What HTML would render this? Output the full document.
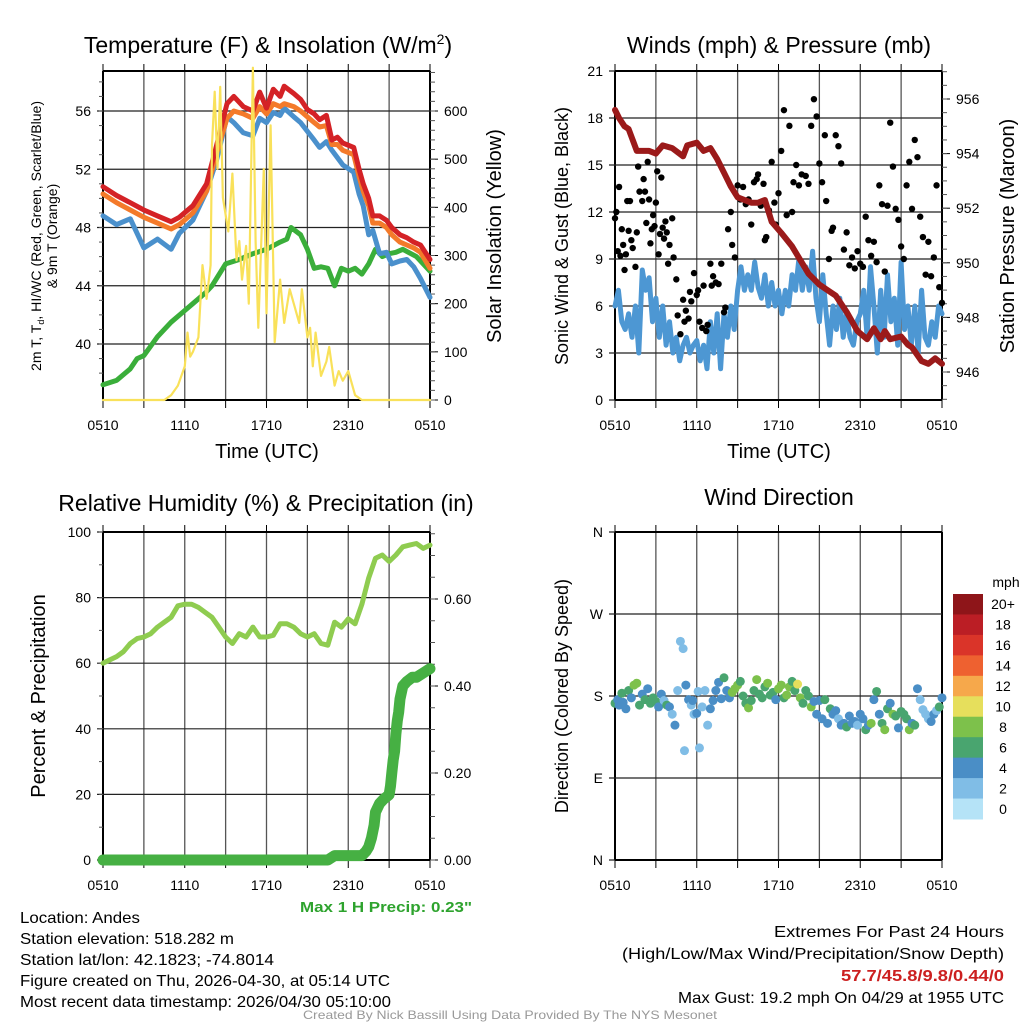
<!DOCTYPE html>
<html><head><meta charset="utf-8"><style>
body{margin:0;background:#fff;}
svg{display:block;font-family:"Liberation Sans",sans-serif;}
.nar{font-family:"Liberation Sans Narrow","Liberation Sans",sans-serif;}
</style></head><body>
<svg id="s" width="1024" height="1024" viewBox="0 0 1024 1024" xmlns="http://www.w3.org/2000/svg">
<rect width="1024" height="1024" fill="#fff"/>
<g id="g1"></g>
<g id="g2"></g>
<g id="g3"></g>
<g id="g4"></g>
<text x="268" y="53" font-size="23" text-anchor="middle">Temperature (F) &amp; Insolation (W/m<tspan dy="-9" font-size="14">2</tspan><tspan dy="9">)</tspan></text>
<text x="779" y="53" font-size="23" text-anchor="middle">Winds (mph) &amp; Pressure (mb)</text>
<text x="266" y="511" font-size="23" text-anchor="middle">Relative Humidity (%) &amp; Precipitation (in)</text>
<text x="779" y="505" font-size="23" text-anchor="middle">Wind Direction</text>
<text x="472" y="912" font-size="15" font-weight="bold" fill="#2ea32e" text-anchor="end" textLength="172" lengthAdjust="spacingAndGlyphs">Max 1 H Precip: 0.23"</text>
<g font-size="16">
<text x="20" y="923" textLength="120" lengthAdjust="spacingAndGlyphs">Location: Andes</text>
<text x="20" y="944" textLength="214" lengthAdjust="spacingAndGlyphs">Station elevation: 518.282 m</text>
<text x="20" y="965" textLength="254" lengthAdjust="spacingAndGlyphs">Station lat/lon: 42.1823; -74.8014</text>
<text x="20" y="986" textLength="370" lengthAdjust="spacingAndGlyphs">Figure created on Thu, 2026-04-30, at 05:14 UTC</text>
<text x="20" y="1007" textLength="371" lengthAdjust="spacingAndGlyphs">Most recent data timestamp: 2026/04/30 05:10:00</text>
</g>
<g font-size="16" text-anchor="end">
<text x="1004" y="937" textLength="230" lengthAdjust="spacingAndGlyphs">Extremes For Past 24 Hours</text>
<text x="1004" y="959" textLength="382" lengthAdjust="spacingAndGlyphs">(High/Low/Max Wind/Precipitation/Snow Depth)</text>
<text x="1004" y="981" textLength="163" lengthAdjust="spacingAndGlyphs" font-weight="bold" fill="#cc2020">57.7/45.8/9.8/0.44/0</text>
<text x="1004" y="1003" textLength="326" lengthAdjust="spacingAndGlyphs">Max Gust: 19.2 mph On 04/29 at 1955 UTC</text>
</g>
<text x="510" y="1019" font-size="12" fill="#999" text-anchor="middle" textLength="414" lengthAdjust="spacingAndGlyphs">Created By Nick Bassill Using Data Provided By The NYS Mesonet</text>
</svg>
<script>
// ---------- DATA ----------
const xTickLabels = ["0510","1110","1710","2310","0510"];
const tempT = [0,1,2,3,4,5,5.6,6.6,7.6,8.3,9.1,9.6,10.3,11,11.5,12,12.5,13,13.3,14,14.5,15,15.5,15.9,16.4,16.8,17.2,17.6,18.4,18.8,19.1,19.5,19.8,20.3,20.8,21.2,21.8,22.3,22.8,23.3,24];
const redT = [50.8,50.2,49.7,49.2,48.8,48.4,48.7,49.5,51,53.5,56.5,57,56.3,56,57.3,56.2,57.5,57,57.7,57.2,56.8,56.1,55.8,55.4,55.7,54,54.2,53.8,53.5,52,51,50,48.8,48.8,48.5,48,47.5,47.3,47,46.8,45.8];
const orangeT = [50.3,49.7,49.2,48.7,48.3,47.9,48.2,49,50.5,53,55.5,56,55.8,55.5,56.3,55.8,56.5,56.3,56.5,56.3,56,55.6,55.2,54.9,55,53.7,53.7,53.3,53,51.5,50.5,49.5,48.3,48.3,48,47.5,47,46.8,46.6,46.3,45.2];
const blueT = [48.8,48.2,48.6,46.6,47.2,46.5,47.6,48.5,50.5,52.5,55.6,55.2,54.5,54.3,55.5,55.2,55.9,55.7,56.2,55.6,55.2,54.6,54,53.5,53.9,53.3,52.8,52.3,51.8,50.3,49.5,47.5,47.8,46.2,46.3,45.5,45.7,45.8,45.3,44.5,43.2];
const dewT = [0,1,2,2.5,3,4,5,6,6.5,7.5,8,9,10,10.5,11,12,13,13.5,13.8,14.5,15,15.5,16,16.5,17,17.5,18,18.5,19,19.5,20,20.5,21,21.5,22,23,24];
const greenT = [37.2,37.5,38.3,39,39.2,40.5,41.5,42.3,42.7,43.5,44,45.5,45.8,46,46.2,46.5,47,47.2,48,47.5,46.5,45.2,45.3,45.2,44,45.2,45,45.2,44.8,45.5,46.5,46,46.2,46.3,46.5,46,45];
const solarT = [0,4.5,5,5.5,6,6.2,6.4,6.6,7,7.3,7.6,7.9,8,8.2,8.4,8.6,8.8,9.2,9.5,9.8,10,10.2,10.5,10.7,11,11.2,11.4,11.8,12,12.3,12.6,13,13.3,13.7,14,14.4,14.6,15,15.2,15.4,15.6,16,16.4,16.6,17,17.3,17.6,18,18.5,19,24];
const solarV = [0,0,10,30,70,140,90,100,130,280,210,280,530,640,480,650,420,350,470,290,330,250,320,200,690,330,150,480,180,570,120,250,160,230,200,160,230,130,150,70,140,50,80,110,30,60,40,60,10,0,0];
// winds
const windT0 = 0, windDt = 0.25;
const windV = [6,7,5,4.5,5.5,4,6,3,8.3,7,7.8,5,6.5,4,6,3.5,5,3,4,2.5,3.5,4,3,3.5,3.8,2.5,3.5,2,5,3,5.5,2,5.5,4,6,4.5,7,8.5,7,8,7,8.8,7.2,6.5,8,6,7.5,6,7,5.5,7,6,8,7,9,7,8.5,7,9.5,6.5,5,8,5.5,3.5,6,4.5,6.5,4,5.5,4,3.5,5,5.5,7,4,8.5,6,3,7,4,8,5,6.5,3.5,8.8,4.5,6,3.5,6,3,7,4,3.5,5,4,6,5.5];
const gustT = [0,0.1,0.2,0.3,0.4,0.5,0.6,0.7,0.8,0.9,1,1.1,1.2,1.3,1.5,1.6,1.7,1.8,2,2.1,2.2,2.3,2.4,2.5,2.6,2.7,2.8,2.9,3,3.1,3.2,3.3,3.4,3.5,3.6,3.7,3.8,3.9,4,4.2,4.3,4.5,4.6,4.8,5,5.1,5.2,5.4,5.5,5.6,5.8,6,6.1,6.2,6.4,6.5,6.7,6.8,7,7.1,7.2,7.4,7.6,7.8,8,8.1,8.3,8.5,8.6,8.8,9,9.2,9.4,9.6,9.8,10,10.2,10.4,10.5,10.7,10.9,11,11.1,11.3,11.5,11.7,11.8,12,12.2,12.4,12.6,12.8,13,13.1,13.3,13.5,13.7,14,14.2,14.4,14.6,14.8,15,15.2,15.4,15.5,15.7,15.9,16,16.2,16.4,16.6,16.8,17,17.2,17.4,17.6,17.8,18,18.2,18.4,18.6,18.8,19,19.2,19.4,19.6,19.8,20,20.2,20.4,20.6,20.8,21,21.2,21.4,21.6,21.8,22,22.2,22.4,22.6,22.8,23,23.2,23.4,23.6,23.8,24];
const gustV = [11.6,12,9.5,13.6,9.2,10.9,9.9,8.3,9.3,12.7,10.8,12.7,10.2,9.7,8.5,10.7,14.9,13.3,12.7,14.1,13.3,11.3,15.2,12.8,10,10.9,11.8,11.1,12.6,14.6,9.3,10.6,14.2,11,10.3,11.4,10.7,8.7,9.9,11.6,9.1,7.7,5.4,4.2,6.4,5,5.7,5.2,6.9,6.3,8.1,6.7,7,5,4.6,7.3,4.4,4.8,8.7,7.3,7.9,7.5,7.4,8.7,5.6,5.9,10.9,12,9.9,9.1,13.7,12.8,13.6,12.5,12.8,11.2,13.9,14.1,14.4,12.4,13.8,10.2,10.4,12.1,15.2,12.6,11.2,13.2,15.9,18.5,11.8,17.5,12,13.9,15,13.7,14.4,14.3,13.8,17.5,19.2,18.1,15.1,13.9,16.9,12.7,9,10.8,11,16.9,16.2,15.1,9.6,10.7,8.6,9.1,8.4,9.5,8.7,8.5,11.7,10.2,9.2,10.1,8.8,13.7,12.5,8.2,12.4,17.7,14.9,12.2,11.5,9.8,9,13.7,15.2,12.2,16.6,15.5,11.7,10.4,8,10.1,7.9,9.1,13.7,7.2,6.2,9.8,6.9,9.2,12.4,8.2];
const presT = [0,0.3,0.7,1,1.6,2.5,3,3.5,4.2,5,5.3,6,6.5,7,7.5,8,8.5,9,10,10.5,11,11.5,12.2,13,13.6,14.2,15,15.6,16.2,17,17.8,18.5,19,19.5,19.8,20.2,21,21.5,21.8,22.5,23,23.5,24];
const presV = [955.6,955.3,955,954.9,954.1,954.1,954,954.3,954.2,953.9,954.3,954.4,954.1,954.2,953.8,953.3,952.8,952.4,952.2,952.2,952.3,951.5,951.1,950.6,950.1,949.6,949.2,949,948.8,948.2,947.5,947.2,947.6,947.2,947.5,947.2,947.3,947,946.9,946.4,946.3,946.5,946.3];
// humidity / precip
const rhT = [0,0.5,1,1.5,2,2.5,3,3.5,4,4.5,5,5.5,6,6.5,7,7.5,8,8.5,9,9.5,10,10.5,11,11.5,12,12.5,13,13.5,14,14.5,15,15.5,16,16.5,17,17.5,18,18.5,19,19.5,20,20.5,21,21.5,22,22.5,23,23.5,24];
const rhV = [60,61,62,63.5,66,67.5,68,69,71,72.5,74,77.5,78,78,77,75.5,74,71,68,66,69,68,71,68,68,68.5,72,72,71,69,68,69,66,65.5,72.5,71,73.5,72,78,86,92,93,91,93,95.5,96,96.5,95,96];
const precipT = [0,16.5,17,18,19,19.3,19.5,19.7,19.9,20,20.3,20.6,21,21.1,21.2,21.3,21.4,21.5,21.6,21.7,21.8,22,22.3,22.7,23,23.5,24];
const precipV = [0,0,0.01,0.01,0.01,0.02,0.03,0.05,0.08,0.11,0.13,0.14,0.15,0.17,0.2,0.23,0.25,0.29,0.32,0.34,0.37,0.40,0.41,0.42,0.42,0.43,0.44];
// wind direction (time h, direction deg, speed mph)
const dirT = [0,0.2,0.3,0.5,0.6,0.8,1,1.2,1.4,1.6,1.8,2,2.2,2.4,2.6,2.8,3,3.2,3.4,3.6,3.8,4,4.2,4.4,4.6,4.8,5,5.1,5.2,5.4,5.6,5.7,5.8,6,6.1,6.2,6.4,6.6,6.8,7,7.2,7.4,7.6,7.8,8,8.2,8.4,8.6,8.8,9,9.2,9.4,9.6,9.8,10,10.2,10.4,10.6,10.8,11,11.2,11.4,11.6,11.8,12,12.2,12.4,12.6,12.8,13,13.2,13.4,13.6,13.8,14,14.2,14.4,14.6,14.8,15,15.2,15.4,15.6,15.8,16,16.2,16.4,16.6,16.8,17,17.2,17.4,17.6,17.8,18,18.2,18.4,18.6,18.8,19,19.2,19.4,19.6,19.8,20,20.2,20.4,20.6,20.8,21,21.2,21.4,21.6,21.8,22,22.2,22.4,22.6,22.8,23,23.2,23.4,23.6,23.8,24];
const dirD = [172,176,170,183,173,166,186,178,192,194,170,182,176,188,172,178,174,168,182,175,170,168,160,148,186,240,232,120,192,176,170,175,160,161,185,123,168,186,148,166,175,186,195,177,200,186,178,184,188,192,196,180,172,167,175,186,198,182,178,190,194,181,184,176,188,192,178,181,190,196,186,193,178,172,186,180,168,174,160,175,155,176,150,166,160,164,155,148,150,146,158,150,152,148,160,155,143,148,150,176,185,160,150,143,166,172,160,158,145,163,160,155,143,150,148,188,176,165,160,155,152,160,164,168,178,182];
const dirS = [7,5,4,6,5,4,6,4,8,8,6,4,7,5,6,7,6,5,4,3,7,4,3,4,3,2,3,2,4,5,3,4,3,4,3,2,3,2,3,4,5,4,4,5,7,5,4,8,8,8,7,6,7,8,6,7,8,6,7,6,8,7,6,5,8,9,7,8,8,6,7,10,8,6,7,6,9,5,4,5,4,7,5,6,4,4,3,5,4,6,4,5,4,3,5,4,6,4,8,4,6,5,7,8,6,4,8,7,4,6,7,6,8,4,6,4,3,2,3,2,4,4,3,6,5];
const cbLabels = ["20+","18","16","14","12","10","8","6","4","2","0"];
const cbColors = ["#8e1519","#bb1e25","#da3429","#ee6130","#f6a84b","#e6df5c","#7dc14b","#49a56f","#4a8ec6","#80bde6","#b5e3f7"];
const dirTickLabels = ["N","E","S","W","N"];

// ---------- HELPERS ----------
const NS = "http://www.w3.org/2000/svg";
function el(tag, parent, attrs){ const e=document.createElementNS(NS,tag); for(const k in attrs) e.setAttribute(k,attrs[k]); parent.appendChild(e); return e; }
function lin(d0,d1,r0,r1){ return v => r0 + (v-d0)/(d1-d0)*(r1-r0); }

function frame(g, L, R, T, B, hGrid, yFn, leftTicks, leftLabels, leftMinor){
  const x = lin(0,24,L,R);
  for(let i=0;i<=8;i++){
    const xx = x(i*3);
    const v = el("line", g, {x1:xx,x2:xx,y1:T,y2:B,stroke:(i==0||i==8)?"#000":"#555","stroke-width":(i==0||i==8)?2:1.3});
    
    
    const t1 = el("line", g, {x1:xx,x2:xx,y1:T-7,y2:T,stroke:"#000","stroke-width":1});
    
    
    const t2 = el("line", g, {x1:xx,x2:xx,y1:B,y2:B+8,stroke:"#000","stroke-width":1});
    
    
  }
  xTickLabels.forEach((s,i)=>{
    const t = el("text", g, {x:x(i*6),y:B+30,"font-size":14,"text-anchor":"middle"});
    
    
    t.textContent = s;
  });
  hGrid.forEach(v=>{
    const yy=yFn(v);
    const h = el("line", g, {x1:L-6,x2:R,y1:yy,y2:yy,stroke:"#222","stroke-width":1.2});
    
    
  });
  leftTicks.forEach((v,i)=>{
    const t = el("text", g, {x:L-12,y:yFn(v)+5,"font-size":14,"text-anchor":"end"});
    
    
    t.textContent = leftLabels[i];
  });
  (leftMinor||[]).forEach(v=>{
    const m = el("line", g, {x1:L-4,x2:L,y1:yFn(v),y2:yFn(v),stroke:"#555","stroke-width":1});
    
    
  });
  const top = el("line", g, {x1:L,x2:R,y1:T,y2:T,stroke:"#000","stroke-width":2});
  
  
  const bot = el("line", g, {x1:L,x2:R,y1:B,y2:B,stroke:"#000","stroke-width":2});
  
  
  return x;
}
function rightAxis(g, R, ry, ticks, labels, minor){
  ticks.forEach((v,i)=>{
    const l = el("line", g, {x1:R,x2:R+8,y1:ry(v),y2:ry(v),stroke:"#000","stroke-width":1});
    
    
    const t = el("text", g, {x:R+14,y:ry(v)+5,"font-size":14});
    
    
    t.textContent = labels[i];
  });
  minor.forEach(v=>{
    const l = el("line", g, {x1:R,x2:R+5,y1:ry(v),y2:ry(v),stroke:"#555","stroke-width":1});
    
    
  });
}
function poly(g, xs, ys, x, y, color, w, name){
  const pts = xs.map((t,i)=> x(t).toFixed(1)+","+y(ys[i]).toFixed(1)).join(" ");
  const p = el("polyline", g, {points:pts,fill:"none",stroke:color,"stroke-width":w,"stroke-linejoin":"round","stroke-linecap":"round"});
  
  
  return p;
}
function label(g, txt, x, y, size, rot){
  const t = el("text", g, {x:x,y:y,"font-size":size,"text-anchor":"middle",transform:rot?`rotate(-90 ${x} ${y})`:""});
  
  
  t.textContent = txt;
  return t;
}
function range(a,b,s){ const r=[]; for(let v=a; v<=b+1e-9; v+=s) r.push(+v.toFixed(4)); return r; }

// ---------- PANEL 1 ----------
(function(){
  const g=document.getElementById("g1");
  const L=103,R=430,T=71,B=400;
  const y=lin(40,56,344,111);
  const ry=lin(0,600,400,111);
  const x=frame(g,L,R,T,B,[40,44,48,52,56],y,[40,44,48,52,56],["40","44","48","52","56"],range(38,58,1));
  rightAxis(g,R,ry,[0,100,200,300,400,500,600],["0","100","200","300","400","500","600"],range(0,680,20));
  poly(g,dewT,greenT,x,y,"#3aae3a",5,"dewpoint-line");
  poly(g,tempT,blueT,x,y,"#4a90cc",5,"heat-index-windchill-line");
  poly(g,tempT,orangeT,x,y,"#f47a2a",5,"temp-9m-line");
  poly(g,tempT,redT,x,y,"#d42226",5,"temp-2m-line");
  poly(g,solarT,solarV,x,ry,"#f9e15a",2.2,"solar-insolation-line");
  const a=el("text",g,{x:41,y:236,"font-size":14,"text-anchor":"middle",textLength:270,lengthAdjust:"spacingAndGlyphs",transform:"rotate(-90 41 236)"});
  
  
  a.innerHTML='2m T, T<tspan font-size="9" dy="3">d</tspan><tspan dy="-3">, HI/WC (Red, Green, Scarlet/Blue)</tspan>';
  label(g,"& 9m T (Orange)",57,236,14,true);
  label(g,"Solar Insolation (Yellow)",501,236,20,true);
  label(g,"Time (UTC)",267,458,20,false);
})();

// ---------- PANEL 2 ----------
(function(){
  const g=document.getElementById("g2");
  const L=615,R=942,T=71,B=400;
  const y=lin(0,21,400,71);
  const ry=lin(946,956,372,99);
  const x=frame(g,L,R,T,B,[0,3,6,9,12,15,18,21],y,[0,3,6,9,12,15,18,21],["0","3","6","9","12","15","18","21"],[]);
  rightAxis(g,R,ry,[946,948,950,952,954,956],["946","948","950","952","954","956"],range(945,957,0.5));
  const wt = windV.map((v,i)=>windT0+i*windDt);
  poly(g,wt,windV,x,y,"#4d97d3",5,"sonic-wind-line");
  gustT.forEach((t,i)=>{
    const c=el("circle",g,{cx:x(t),cy:y(gustV[i]),r:3.2,fill:"#000"});
    
    
  });
  poly(g,presT,presV,x,ry,"#9b1a1a",6,"station-pressure-line");
  label(g,"Sonic Wind & Gust (Blue, Black)",568,236,18,true);
  label(g,"Station Pressure (Maroon)",1014,236,20,true);
  label(g,"Time (UTC)",779,458,20,false);
})();

// ---------- PANEL 3 ----------
(function(){
  const g=document.getElementById("g3");
  const L=103,R=430,T=532,B=860;
  const y=lin(0,100,860,532);
  const ry=lin(0,0.6,860,599);
  const x=frame(g,L,R,T,B,[0,20,40,60,80,100],y,[0,20,40,60,80,100],["0","20","40","60","80","100"],range(0,100,10));
  rightAxis(g,R,ry,[0,0.2,0.4,0.6],["0.00","0.20","0.40","0.60"],range(0,0.75,0.05));
  poly(g,rhT,rhV,x,y,"#8fcc50",5,"relative-humidity-line");
  poly(g,precipT,precipV,x,ry,"#46b043",11,"precipitation-line");
  label(g,"Percent & Precipitation",45,696,20,true);
})();

// ---------- PANEL 4 ----------
(function(){
  const g=document.getElementById("g4");
  const L=615,R=942,T=532,B=860;
  const y=lin(0,360,860,532);
  const x=frame(g,L,R,T,B,[0,90,180,270,360],y,[0,90,180,270,360],dirTickLabels,[]);
  const bin=s=>Math.min(10,Math.floor(s/2));
  dirT.forEach((t,i)=>{
    const c=el("circle",g,{cx:x(t),cy:y(dirD[i]),r:4.5,fill:cbColors[10-bin(dirS[i])]});
    
    
  });
  label(g,"Direction (Colored By Speed)",568,696,18,true);
  const cb=el("g",g,{});
  
  
  const h=(819-594)/11;
  cbColors.forEach((c,i)=>{
    const r=el("rect",cb,{x:953,y:594+i*h,width:30,height:h+0.5,fill:c});
    
    
    const t=el("text",cb,{x:1003,y:594+i*h+h/2+5,"font-size":14,"text-anchor":"middle"});
    
    
    t.textContent=cbLabels[i];
  });
  const m=el("text",cb,{x:1006,y:587,"font-size":14,"text-anchor":"middle"});
  
  
  m.textContent="mph";
})();
</script>
</body></html>
